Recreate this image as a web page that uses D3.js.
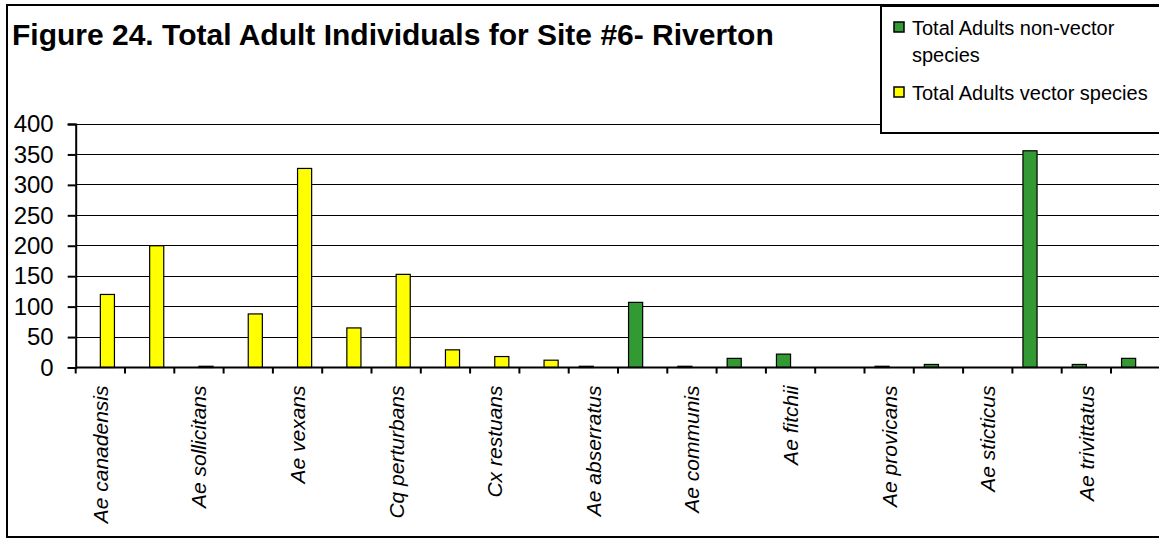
<!DOCTYPE html>
<html>
<head>
<meta charset="utf-8">
<script src="https://cdn.jsdelivr.net/npm/d3@7"></script>
<style>
  html, body { margin: 0; padding: 0; background: #fff; }
  svg { display: block; font-family: "Liberation Sans", Arial, sans-serif; }
</style>
</head>
<body>
<svg id="chart" width="1159" height="540"></svg>
<script>
// ---- data ----
const categories = [
  "Ae canadensis", "", "Ae sollicitans", "", "Ae vexans", "", "Cq perturbans", "",
  "Cx restuans", "", "Ae abserratus", "", "Ae communis", "", "Ae fitchii", "",
  "Ae provicans", "", "Ae sticticus", "", "Ae trivittatus", ""
];
const nonVector = [0, 0, 0, 0, 0, 0, 0, 0, 0, 0, 2, 107, 2, 15, 22, 0, 2, 5, 0, 356, 5, 15];
const vector    = [120, 200, 2, 88, 327, 65, 153, 29, 18, 12, 0, 0, 0, 0, 0, 0, 0, 0, 0, 0, 0, 0];
const seriesNames = ["Total Adults non-vector species", "Total Adults vector species"];
const seriesColors = ["#339933", "#FFFF00"];
const yTicks = [0, 50, 100, 150, 200, 250, 300, 350, 400];
const titleText = "Figure 24. Total Adult Individuals for Site #6- Riverton";

// ---- layout ----
const svg = d3.select("#chart");
const plot = { left: 75.7, right: 1160.3, top: 124, bottom: 367.5 };

const idx = categories.map((d, i) => i);
const x0 = d3.scaleBand().domain(idx).range([plot.left, plot.right])
  .paddingInner(0.428).paddingOuter(0.214);
const keys = [0, 1];
const x1 = d3.scaleBand().domain(keys).range([0, x0.bandwidth()]);
const y = d3.scaleLinear().domain([0, 400]).range([plot.bottom, plot.top]);

// outer frame
svg.append("rect").attr("x", 7).attr("y", 5).attr("width", 1170).attr("height", 532)
  .attr("fill", "#fff").attr("stroke", "#000").attr("stroke-width", 2);

// title
svg.append("text").attr("x", 12).attr("y", 45)
  .attr("font-weight", "bold").attr("font-size", 30).attr("fill", "#000")
  .text(titleText);

// gridlines
svg.append("g").selectAll("line").data(yTicks.filter(d => d > 0)).join("line")
  .attr("x1", plot.left).attr("x2", plot.right)
  .attr("y1", d => y(d)).attr("y2", d => y(d))
  .attr("stroke", "#000").attr("stroke-width", 1).attr("shape-rendering", "crispEdges");

// bars
const series = [nonVector, vector];
const g = svg.append("g");
idx.forEach(i => {
  keys.forEach(k => {
    const v = series[k][i];
    if (v <= 0) return;
    g.append("rect")
      .attr("x", x0(i) + x1(k))
      .attr("y", y(v))
      .attr("width", x1.bandwidth())
      .attr("height", y(0) - y(v))
      .attr("fill", seriesColors[k])
      .attr("stroke", "#000").attr("stroke-width", 1.2);
  });
});

// y axis
const yAxis = d3.axisLeft(y).tickValues(yTicks).tickSize(8).tickPadding(14).tickFormat(d3.format("d"));
const ya = svg.append("g").attr("transform", `translate(${plot.left},0)`).call(yAxis);
ya.select(".domain").attr("stroke", "#000").attr("stroke-width", 2);
ya.selectAll(".tick line").attr("stroke", "#000").attr("stroke-width", 2);
ya.selectAll(".tick text").attr("font-size", 24).attr("fill", "#000")
  .attr("font-family", "Liberation Sans, Arial, sans-serif");

// x axis (ticks at category boundaries)
const xa = svg.append("g");
xa.append("line").attr("x1", plot.left).attr("x2", plot.right)
  .attr("y1", plot.bottom).attr("y2", plot.bottom)
  .attr("stroke", "#000").attr("stroke-width", 2);
const bounds = idx.map(i => x0(i) - x0.step() * x0.paddingOuter());
bounds.push(plot.right);
xa.selectAll("line.tk").data(bounds).join("line").attr("class", "tk")
  .attr("x1", d => d).attr("x2", d => d)
  .attr("y1", plot.bottom).attr("y2", plot.bottom + 6)
  .attr("stroke", "#000").attr("stroke-width", 2);

// x labels (every other category, rotated)
xa.selectAll("text").data(idx.filter(i => categories[i] !== "")).join("text")
  .attr("transform", i => `translate(${x0(i) + x0.bandwidth() / 2},${plot.bottom + 18}) rotate(-90)`)
  .attr("text-anchor", "end").attr("dy", "0.35em")
  .attr("font-size", 21).attr("font-style", "italic").attr("fill", "#000")
  .text(i => categories[i]);

// legend
const lg = svg.append("g");
lg.append("rect").attr("x", 881).attr("y", 6).attr("width", 300).attr("height", 127)
  .attr("fill", "#fff").attr("stroke", "#000").attr("stroke-width", 2);
const legendRows = [
  { lines: ["Total Adults non-vector", "species"], y: 35 },
  { lines: ["Total Adults vector species"], y: 100 }
];
legendRows.forEach((r, k) => {
  lg.append("rect").attr("x", 894).attr("y", r.y - 13).attr("width", 10).attr("height", 10)
    .attr("fill", seriesColors[k]).attr("stroke", "#000").attr("stroke-width", 1.5);
  r.lines.forEach((t, j) => {
    lg.append("text").attr("x", 912).attr("y", r.y + j * 27)
      .attr("font-size", 20).attr("fill", "#000").text(t);
  });
});
</script>
</body>
</html>
